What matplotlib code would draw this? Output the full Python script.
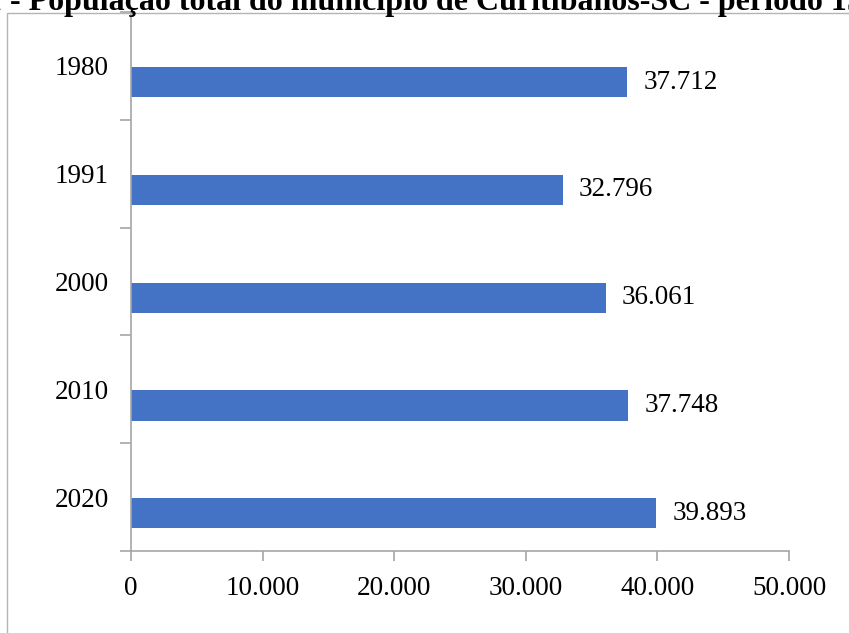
import matplotlib
matplotlib.use("Agg")
from matplotlib import pyplot as plt
from matplotlib.patches import Rectangle
from matplotlib.ticker import FuncFormatter, MultipleLocator, FixedLocator

plt.rcParams['font.family'] = ['Liberation Serif', 'DejaVu Serif']

anos = ['1980', '1991', '2000', '2010', '2020']
populacao = [37712, 32796, 36061, 37748, 39893]
titulo = "Gráfico 1 - População total do município de Curitibanos-SC - período 1980-2020"
prefixo = "Gráfico 1"

W, H = 849, 633
fig = plt.figure(figsize=(W / 100, H / 100), dpi=100)

# moldura da area do grafico (cortada a direita e embaixo)
fig.patches.append(Rectangle((7 / W, -0.1), 1.2, (H - 13) / H + 0.1,
                             transform=fig.transFigure, fill=False,
                             edgecolor='#b4b4b4', linewidth=1.0))

ax = fig.add_axes([131 / W, (H - 551) / H, (789 - 131) / W, (551 - 12) / H])

pos = list(range(len(anos)))
ax.barh([p + 0.15 for p in pos], populacao, height=0.28,
        color='#4472C4', zorder=2)

for p, v in zip(pos, populacao):
    ax.text(v + 1250, p + 0.15, f"{v:,}".replace(",", "."), va='center',
            ha='left', fontsize=19.5, color='#000000')

ax.set_xlim(0, 50000)
ax.set_ylim(len(anos) - 0.5, -0.5)
ax.xaxis.set_major_locator(MultipleLocator(10000))
ax.xaxis.set_major_formatter(FuncFormatter(lambda x, _: f"{int(x):,}".replace(",", ".")))
ax.set_yticks(pos)
ax.set_yticklabels(anos)
ax.yaxis.set_minor_locator(FixedLocator([p - 0.5 for p in range(len(anos) + 1)]))

for s in ['top', 'right']:
    ax.spines[s].set_visible(False)
for s in ['left', 'bottom']:
    ax.spines[s].set_color('#a6a6a6')
    ax.spines[s].set_linewidth(1.2)

ax.tick_params(axis='x', direction='out', length=7, width=1.2, color='#a6a6a6',
               labelsize=19.5, pad=11, labelcolor='#000000')
ax.tick_params(axis='y', which='major', length=0, labelsize=19.5, pad=16,
               labelcolor='#000000')
ax.tick_params(axis='y', which='minor', direction='out', length=8, width=1.2,
               color='#a6a6a6')

# titulo (cortado nas bordas da imagem)
tam = 23.0
r = fig.canvas.get_renderer()
tmp = fig.text(0, 0, prefixo, fontsize=tam, fontweight='bold')
wpre = tmp.get_window_extent(renderer=r).width
tmp.remove()
fig.text(2 - wpre, H - 10, titulo, fontsize=tam, fontweight='bold',
         transform=None, ha='left', va='baseline', color='#000000')

fig.savefig("out.png", dpi=100)
